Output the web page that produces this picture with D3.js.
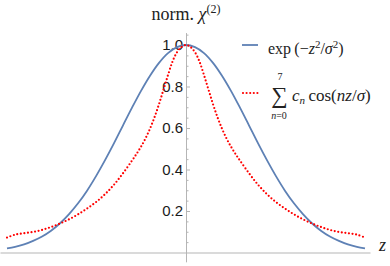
<!DOCTYPE html>
<html><head><meta charset="utf-8">
<script src="https://cdn.jsdelivr.net/npm/d3@7"></script>
<style>body{margin:0;background:#fff}svg{display:block}</style>
</head><body>
<script>
// z in units of sigma
const blueZ = [-1.99,-1.9,-1.8,-1.7,-1.6,-1.5,-1.4,-1.3,-1.2,-1.1,-1.0,-0.9,-0.8,-0.7,-0.6,-0.5,-0.4,-0.3,-0.2,-0.1,0,
  0.1,0.2,0.3,0.4,0.5,0.6,0.7,0.8,0.9,1.0,1.1,1.2,1.3,1.4,1.5,1.6,1.7,1.8,1.9,1.99];
const blueVals = [0.02,0.027,0.039,0.056,0.077,0.105,0.141,0.185,0.237,0.298,0.368,0.445,0.527,0.613,0.698,0.779,0.852,0.914,0.961,0.990,1.0,
  0.990,0.961,0.914,0.852,0.779,0.698,0.613,0.527,0.445,0.368,0.298,0.237,0.185,0.141,0.105,0.077,0.056,0.039,0.027,0.02];
const redZ = [-1.99,-1.9,-1.8,-1.7,-1.6,-1.5,-1.4,-1.3,-1.2,-1.1,-1.0,-0.9,-0.8,-0.7,-0.6,-0.55,-0.5,-0.45,-0.4,-0.35,-0.3,-0.25,-0.2,-0.15,-0.1,-0.05,0,
  0.05,0.1,0.15,0.2,0.25,0.3,0.35,0.4,0.45,0.5,0.55,0.6,0.7,0.8,0.9,1.0,1.1,1.2,1.3,1.4,1.5,1.6,1.7,1.8,1.9,1.99];
const redVals = [0.072,0.086,0.093,0.099,0.109,0.123,0.14,0.16,0.184,0.212,0.243,0.281,0.327,0.382,0.443,0.475,0.51,0.55,0.597,0.652,0.715,0.785,0.855,0.92,0.965,0.99,1.0,
  0.99,0.965,0.92,0.855,0.785,0.715,0.652,0.597,0.55,0.51,0.475,0.443,0.382,0.327,0.281,0.243,0.212,0.184,0.16,0.14,0.123,0.109,0.099,0.093,0.086,0.072];
const yTicks = [0.2,0.4,0.6,0.8,1.0];
const yTickLabels = ["0.2","0.4","0.6","0.8","1.0"];
const yMinor = [0.05,0.1,0.15,0.25,0.3,0.35,0.45,0.5,0.55,0.65,0.7,0.75,0.85,0.9,0.95,1.05];

const W = 390, H = 266;
const svg = d3.select("body").append("svg").attr("width", W).attr("height", H)
  .style("background", "#fff");

const x = d3.scaleLinear().domain([-1.99, 1.99]).range([7, 365]);
const y = d3.scaleLinear().domain([0, 1]).range([252.5, 45]);
const axisCol = "#b5b5b5";

// x axis (no ticks)
const xAxisScale = x.copy().domain([x.invert(0), x.invert(370)]).range([0, 370]);
svg.append("g").attr("transform", `translate(0,${y(0)})`)
  .call(d3.axisBottom(xAxisScale).tickValues([]).tickSizeOuter(0))
  .call(g => g.select(".domain").attr("stroke", axisCol));

// y axis
const yAxisScale = y.copy().domain([-0.045, 1.06]).range([y(-0.045), y(1.06)]);
svg.append("g").attr("transform", `translate(${x(0)},0)`)
  .call(d3.axisRight(yAxisScale).tickValues(yTicks).tickSize(4).tickSizeOuter(0).tickFormat(""))
  .call(g => g.select(".domain").attr("stroke", axisCol))
  .call(g => g.selectAll(".tick line").attr("stroke", axisCol));
svg.append("g").attr("transform", `translate(${x(0)},0)`)
  .call(d3.axisRight(yAxisScale).tickValues(yMinor).tickSize(2.5).tickSizeOuter(0).tickFormat(""))
  .call(g => g.select(".domain").remove())
  .call(g => g.selectAll(".tick line").attr("stroke", axisCol));

svg.append("g").selectAll("text").data(yTicks).join("text")
  .attr("x", x(0) - 3).attr("y", d => y(d)).attr("dy", "0.36em")
  .attr("text-anchor", "end")
  .style("font-family", "'Liberation Sans', Arial, sans-serif").style("font-size", "15px")
  .attr("fill", "#1a1a1a")
  .text((d, i) => yTickLabels[i]);

// curves
const line = d3.line().curve(d3.curveCatmullRom.alpha(0.5));
svg.append("path")
  .attr("d", line(blueZ.map((z, i) => [x(z), y(blueVals[i])])))
  .attr("fill", "none").attr("stroke", "#5e81b5").attr("stroke-width", 1.8);
svg.append("path")
  .attr("d", line(redZ.map((z, i) => [x(z), y(redVals[i])])))
  .attr("fill", "none").attr("stroke", "#ff0000").attr("stroke-width", 2.2)
  .attr("stroke-linecap", "round").attr("stroke-dasharray", "0,3.6");

const serif = "'Liberation Serif', 'Times New Roman', serif";

// title
const t = svg.append("text").attr("x", x(0)).attr("y", 20).attr("text-anchor", "middle")
  .style("font-family", serif).style("font-size", "18px").attr("fill", "#222");
t.append("tspan").text("norm. ");
t.append("tspan").style("font-style", "italic").text("χ");
t.append("tspan").attr("dy", -7).style("font-size", "12px").text("(2)");

// z label
svg.append("text").attr("x", 379).attr("y", 251)
  .style("font-family", serif).style("font-style", "italic").style("font-size", "18px")
  .attr("fill", "#222").text("z");

// legend
svg.append("line").attr("x1", 242).attr("x2", 258).attr("y1", 45).attr("y2", 45)
  .attr("stroke", "#5e81b5").attr("stroke-width", 1.8);
const l1 = svg.append("text").attr("x", 268).attr("y", 54)
  .style("font-family", serif).style("font-size", "16px").attr("fill", "#222");
l1.append("tspan").text("exp\u2009(\u2212");
l1.append("tspan").style("font-style", "italic").text("z");
l1.append("tspan").attr("dy", -6).style("font-size", "11px").text("2");
l1.append("tspan").attr("dy", 6).text("/");
l1.append("tspan").style("font-style", "italic").text("σ");
l1.append("tspan").attr("dy", -6).style("font-size", "11px").text("2");
l1.append("tspan").attr("dy", 6).text(")");

svg.append("line").attr("x1", 243).attr("x2", 258).attr("y1", 93).attr("y2", 93)
  .attr("stroke", "#ff0000").attr("stroke-width", 2.2)
  .attr("stroke-linecap", "round").attr("stroke-dasharray", "0,3.6");
svg.append("text").attr("x", 279.5).attr("y", 103).attr("text-anchor", "middle")
  .style("font-family", serif).style("font-size", "23px").attr("fill", "#222").text("∑");
svg.append("text").attr("x", 280).attr("y", 80).attr("text-anchor", "middle")
  .style("font-family", serif).style("font-size", "10px").attr("fill", "#222").text("7");
const nb = svg.append("text").attr("x", 279).attr("y", 118.5).attr("text-anchor", "middle")
  .style("font-family", serif).style("font-size", "10px").attr("fill", "#222");
nb.append("tspan").style("font-style", "italic").text("n");
nb.append("tspan").text("=0");
const l2 = svg.append("text").attr("x", 292).attr("y", 101)
  .style("font-family", serif).style("font-size", "17px").attr("fill", "#222");
l2.append("tspan").style("font-style", "italic").text("c");
l2.append("tspan").attr("dy", 3).style("font-size", "11px").style("font-style", "italic").text("n");
l2.append("tspan").attr("dy", -3).text("\u2009cos(");
l2.append("tspan").style("font-style", "italic").text("nz");
l2.append("tspan").text("/");
l2.append("tspan").style("font-style", "italic").text("σ");
l2.append("tspan").text(")");
</script>
</body></html>
